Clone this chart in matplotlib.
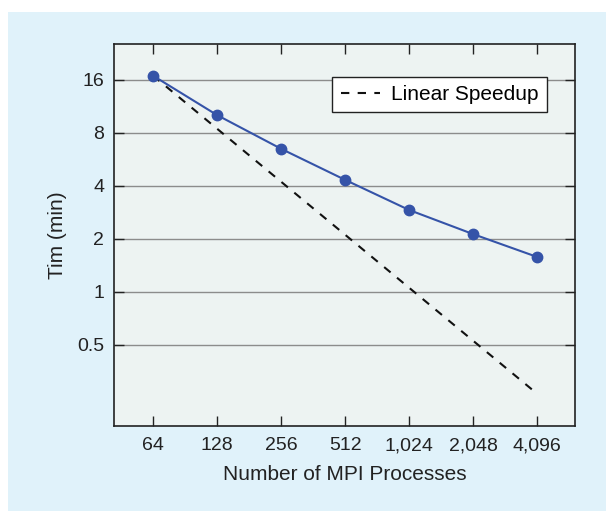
import matplotlib.pyplot as plt
from matplotlib.patches import Rectangle

plt.rcParams['font.family'] = ['Liberation Sans', 'DejaVu Sans']

procs = [64, 128, 256, 512, 1024, 2048, 4096]
times = [16.9, 10.1, 6.5, 4.33, 2.92, 2.13, 1.58]
xlabels = ['64', '128', '256', '512', '1,024', '2,048', '4,096']
yticks = [0.5, 1, 2, 4, 8, 16]
ylabels = ['0.5', '1', '2', '4', '8', '16']

# linear speedup from first measurement
linear = [times[0] * procs[0] / p for p in procs]

fig = plt.figure(figsize=(6.06, 5.11), dpi=100, facecolor='white')
fig.patches.append(Rectangle((8 / 606, 0), 1, 1 - 12 / 511, transform=fig.transFigure,
                             facecolor='#e0f2fa', edgecolor='none', zorder=-10))

ax = fig.add_axes([114 / 606, 1 - 426 / 511, 461 / 606, 382 / 511])
ax.set_facecolor('#edf3f2')

ax.plot(procs, linear, '--', color='#111111', lw=1.5, dashes=(4, 4), label='Linear Speedup', zorder=3)
ax.plot(procs, times, '-o', color='#3553a8', lw=1.5, ms=7.5, zorder=4)

ax.set_xscale('log', base=2)
ax.set_yscale('log', base=2)
ax.set_xlim(41.9, 6180)
ax.set_ylim(0.173, 25.6)

ax.set_xticks(procs)
ax.set_xticklabels(xlabels)
ax.set_yticks(yticks)
ax.set_yticklabels(ylabels)
ax.minorticks_off()
ax.tick_params(direction='in', length=7, width=1, top=True, right=True, labelsize=14,
               colors='#222222')
ax.tick_params(axis='y', pad=7)
ax.tick_params(axis='x', pad=8)
ax.yaxis.grid(True, color='#8c8c8c', lw=1)
ax.set_axisbelow(True)
for s in ax.spines.values():
    s.set_color('#222222')
    s.set_linewidth(1.2)

ax.set_xlabel('Number of MPI Processes', fontsize=15, color='#222222', labelpad=8)
ax.set_ylabel('Tim (min)', fontsize=15, color='#222222', labelpad=7)

leg = ax.legend(loc='upper right', fontsize=15, frameon=True, fancybox=False,
                handlelength=1.9, handletextpad=0.5, borderpad=0.4, bbox_to_anchor=(0.961, 0.942))
leg.get_frame().set_edgecolor('#222222')
leg.get_frame().set_facecolor('white')
leg.get_frame().set_alpha(1)

fig.savefig('out.png', dpi=100, facecolor=fig.get_facecolor())
